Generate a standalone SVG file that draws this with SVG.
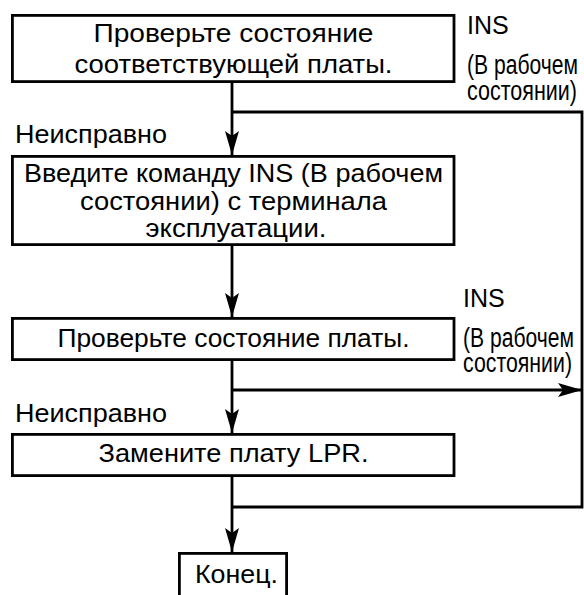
<svg xmlns="http://www.w3.org/2000/svg" width="584" height="595" viewBox="0 0 584 595">
  <style>
    .box { fill: #ffffff; stroke: #000000; stroke-width: 2.8; }
    .line { fill: none; stroke: #000000; stroke-width: 2.8; }
    .t { font-family: "Liberation Sans", Arial, sans-serif; font-size: 25px; fill: #000000; }
    .c { text-anchor: middle; }
    .side { font-family: "Liberation Sans", Arial, sans-serif; font-size: 27px; fill: #000000; }
  </style>
  <defs>
    <marker id="arrow" markerUnits="userSpaceOnUse" markerWidth="26" markerHeight="16" refX="24" refY="7" orient="auto">
      <path d="M0,0 L24,7 L0,14 L5,7 Z" fill="#000000"/>
    </marker>
  </defs>

  <rect width="584" height="595" fill="#ffffff"/>

  <!-- connectors -->
  <g id="connectors">
    <line class="line" x1="232" y1="83" x2="232" y2="155" marker-end="url(#arrow)"/>
    <polyline class="line" points="232,112 582,112 582,507 232,507"/>
    <line class="line" x1="232" y1="246" x2="232" y2="317" marker-end="url(#arrow)"/>
    <line class="line" x1="232" y1="361" x2="232" y2="433" marker-end="url(#arrow)"/>
    <line class="line" x1="232" y1="390" x2="582" y2="390" marker-end="url(#arrow)"/>
    <line class="line" x1="232" y1="477" x2="232" y2="552" marker-end="url(#arrow)"/>
  </g>

  <!-- branch labels -->
  <g id="label-ins-1">
    <text class="t" x="467" y="34">INS</text>
    <text class="side" x="467" y="74" textLength="111" lengthAdjust="spacingAndGlyphs">(В рабочем</text>
    <text class="side" x="467" y="100" textLength="110" lengthAdjust="spacingAndGlyphs">состоянии)</text>
  </g>
  <g id="label-ng-1">
    <text class="t" x="15" y="143" textLength="152" lengthAdjust="spacingAndGlyphs">Неисправно</text>
  </g>
  <g id="label-ins-2">
    <text class="t" x="463" y="307">INS</text>
    <text class="side" x="463" y="347" textLength="111" lengthAdjust="spacingAndGlyphs">(В рабочем</text>
    <text class="side" x="463" y="372" textLength="109" lengthAdjust="spacingAndGlyphs">состоянии)</text>
  </g>
  <g id="label-ng-2">
    <text class="t" x="15" y="422" textLength="152" lengthAdjust="spacingAndGlyphs">Неисправно</text>
  </g>

  <!-- process steps -->
  <g id="check-board">
    <rect class="box" x="12.4" y="15.4" width="441.6" height="66.2"/>
    <text class="t c" x="233.5" y="42" textLength="280" lengthAdjust="spacingAndGlyphs">Проверьте состояние</text>
    <text class="t c" x="233.5" y="73" textLength="318" lengthAdjust="spacingAndGlyphs">соответствующей платы.</text>
  </g>
  <g id="enter-ins">
    <rect class="box" x="12.4" y="156.4" width="441.6" height="88.2"/>
    <text class="t c" x="233.5" y="182" textLength="419" lengthAdjust="spacingAndGlyphs">Введите команду INS (В рабочем</text>
    <text class="t c" x="233.5" y="210" textLength="307" lengthAdjust="spacingAndGlyphs">состоянии) с терминала</text>
    <text class="t c" x="236" y="237" textLength="181" lengthAdjust="spacingAndGlyphs">эксплуатации.</text>
  </g>
  <g id="check-again">
    <rect class="box" x="12.4" y="318.4" width="441.6" height="41.2"/>
    <text class="t c" x="233.5" y="347" textLength="352" lengthAdjust="spacingAndGlyphs">Проверьте состояние платы.</text>
  </g>
  <g id="replace-lpr">
    <rect class="box" x="12.4" y="434.4" width="441.6" height="41.2"/>
    <text class="t c" x="233.5" y="462" textLength="270" lengthAdjust="spacingAndGlyphs">Замените плату LPR.</text>
  </g>
  <g id="end">
    <rect class="box" x="179.4" y="553.4" width="107.2" height="60"/>
    <text class="t c" x="236.5" y="583" textLength="83" lengthAdjust="spacingAndGlyphs">Конец.</text>
  </g>
</svg>
